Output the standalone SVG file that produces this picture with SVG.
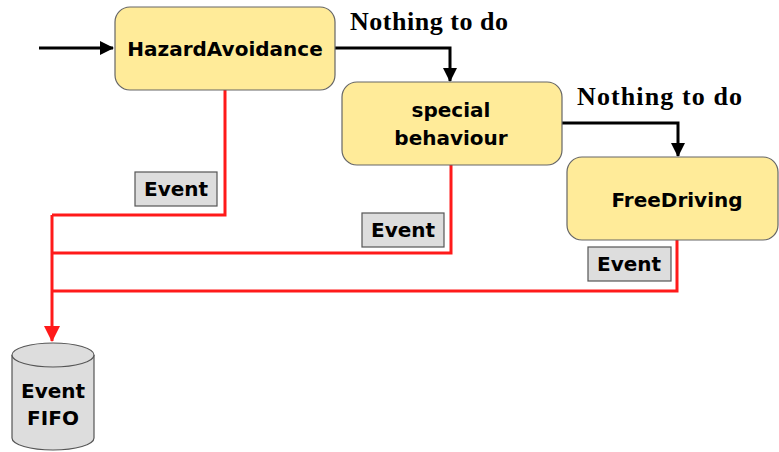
<svg xmlns="http://www.w3.org/2000/svg" width="779" height="452" viewBox="0 0 779 452">
<style>
.node{fill:#FFEB99;stroke:#666;stroke-width:1.2}
.lbl{font-family:"DejaVu Sans",Verdana,sans-serif;font-weight:bold;font-size:20px;fill:#000;text-anchor:middle}
.ev{fill:#DDDDDD;stroke:#555;stroke-width:1.2}
.evt{font-family:"DejaVu Sans",Verdana,sans-serif;font-weight:bold;font-size:20px;fill:#000;text-anchor:middle}
.ntd{font-family:"Liberation Serif","Times New Roman",serif;font-weight:bold;font-size:26px;fill:#000}
.blk{fill:none;stroke:#000;stroke-width:3}
.red{fill:none;stroke:#FF1A1A;stroke-width:3}
</style>
<defs>
<marker id="ar" markerWidth="16" markerHeight="16" refX="15" refY="8" orient="auto" markerUnits="userSpaceOnUse" viewBox="0 0 16 16">
<path d="M0,0 L16,8 L0,16 z" fill="#FF1A1A"/>
</marker>
<marker id="abs" markerWidth="14" markerHeight="14" refX="13" refY="7" orient="auto" markerUnits="userSpaceOnUse" viewBox="0 0 14 14">
<path d="M0,0 L14,7 L0,14 z" fill="#000"/>
</marker>
</defs>
<g id="connectors">
<path class="blk" d="M39,48 L113,48" marker-end="url(#abs)"/>
<path class="blk" d="M335,48 L450,48 L450,81" marker-end="url(#abs)"/>
<path class="blk" d="M562,123 L678,123 L678,156" marker-end="url(#abs)"/>
<path class="red" d="M225,90 L225,215 L52,215"/>
<path class="red" d="M451,165 L451,253 L52,253"/>
<path class="red" d="M677,240 L677,291 L52,291"/>
<path class="red" d="M52,215 L52,341" marker-end="url(#ar)"/>
<g id="ev1"><rect class="ev" x="135" y="172" width="82" height="34"/><text class="evt" x="176" y="196">Event</text></g>
<g id="ev2"><rect class="ev" x="362" y="213" width="82" height="34"/><text class="evt" x="403" y="237">Event</text></g>
<g id="ev3"><rect class="ev" x="588" y="247" width="83" height="34"/><text class="evt" x="629" y="271">Event</text></g>
<text class="ntd" x="350" y="30" textLength="158">Nothing to do</text>
<text class="ntd" x="577" y="105" textLength="165">Nothing to do</text>
</g>
<g id="hazard">
<rect class="node" x="115" y="7" width="220" height="83" rx="15"/>
<text class="lbl" x="225" y="56">HazardAvoidance</text>
</g>
<g id="special">
<rect class="node" x="342" y="82" width="220" height="83" rx="15"/>
<text class="lbl" x="451" y="117">special</text>
<text class="lbl" x="451" y="145">behaviour</text>
</g>
<g id="freedriving">
<rect class="node" x="567" y="157" width="211" height="83" rx="15"/>
<text class="lbl" x="677" y="207">FreeDriving</text>
</g>
<g id="fifo">
<path d="M12,355 L12,438 A41,12 0 0 0 94,438 L94,355" fill="#DDDDDD" stroke="#555" stroke-width="1.2"/>
<ellipse cx="53" cy="355" rx="41" ry="12" fill="#DDDDDD" stroke="#555" stroke-width="1.2"/>
<text class="lbl" x="53" y="398">Event</text>
<text class="lbl" x="53" y="425">FIFO</text>
</g>
</svg>
